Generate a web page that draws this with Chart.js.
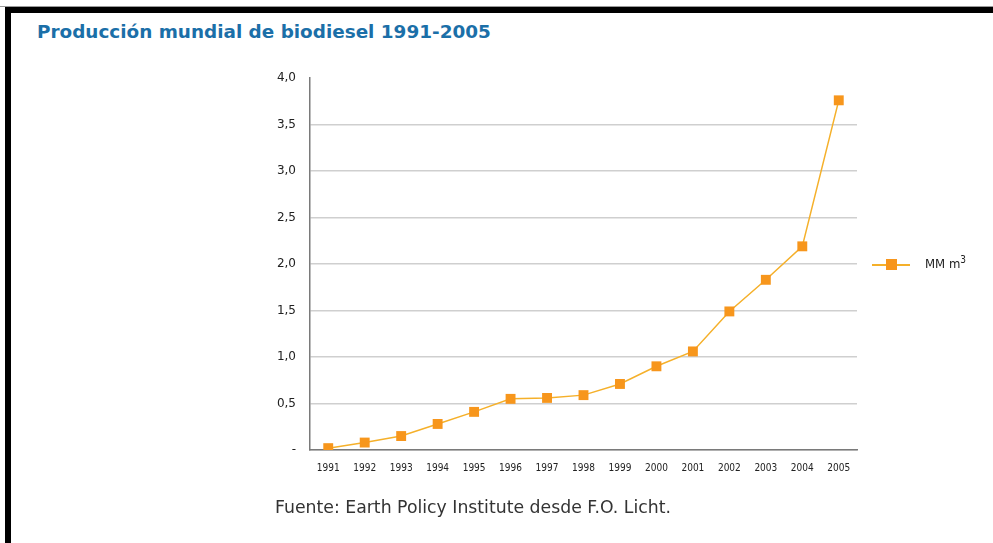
<!DOCTYPE html>
<html lang="es">
<head>
<meta charset="utf-8">
<title>Producción mundial de biodiesel 1991-2005</title>
<script src="https://cdn.jsdelivr.net/npm/chart.js@4/dist/chart.umd.min.js"></script>
<style>
  html, body { margin: 0; padding: 0; background: #fff; }
  #marco { position: relative; width: 993px; height: 543px; overflow: hidden; background: #fff; }
  #borde-sup { position: absolute; left: 0; top: 6px; width: 993px; height: 1px; background: #9a9a9a; }
  #borde-sup2 { position: absolute; left: 5px; top: 7px; width: 988px; height: 6px; background: #000; }
  #borde-izq { position: absolute; left: 5px; top: 7px; width: 6px; height: 536px; background: #000; }
  #titulo { position: absolute; left: 37px; top: 21px; font: bold 18.4px "DejaVu Sans", sans-serif; color: #1b6fa8; white-space: nowrap; }
  #fuente { position: absolute; left: 275px; top: 497px; font: 17.3px "DejaVu Sans", sans-serif; color: #333; white-space: nowrap; }
  #leyenda { position: absolute; left: 872px; top: 256px; height: 16px; font: 13px "DejaVu Sans Condensed", "DejaVu Sans", sans-serif; color: #222; white-space: nowrap; }
  #leyenda .linea { position: absolute; left: 0; top: 8px; width: 38px; height: 1.5px; }
  #leyenda .cuadro { position: absolute; left: 14px; top: 3px; width: 11px; height: 11px; }
  #leyenda .texto { position: absolute; left: 53px; top: 0px; }
  #leyenda sup { font-size: 10px; vertical-align: 5px; line-height: 0; }
  #grafico { position: absolute; left: 0; top: 0; }
</style>
</head>
<body>
<div id="marco">
  <div id="borde-sup"></div>
  <div id="borde-sup2"></div>
  <div id="borde-izq"></div>
  <div id="titulo">Producción mundial de biodiesel 1991-2005</div>
  <canvas id="grafico" width="993" height="543"></canvas>
  <div id="leyenda"><span class="linea"></span><span class="cuadro"></span><span class="texto">MM m<sup>3</sup></span></div>
  <div id="fuente">Fuente: Earth Policy Institute desde F.O. Licht.</div>
</div>
<script>
// años y producción (millones de m3)
const anios = ["1991", "1992", "1993", "1994", "1995", "1996", "1997", "1998",
               "1999", "2000", "2001", "2002", "2003", "2004", "2005"];
const produccion = [0.02, 0.08, 0.15, 0.28, 0.41, 0.55, 0.56, 0.59,
                    0.71, 0.90, 1.06, 1.49, 1.83, 2.19, 3.76];
const etiquetaSerie = "MM m3";

const colorLinea = "#f5b02a";
const colorMarcador = "#f7961c";

// leyenda con los mismos colores de la serie
document.querySelector("#leyenda .linea").style.background = colorLinea;
document.querySelector("#leyenda .cuadro").style.background = colorMarcador;

function formatoEje(valor) {
    if (valor === 0) return "-";
    return valor.toFixed(1).replace(".", ",");
}

const ctx = document.getElementById("grafico").getContext("2d");
new Chart(ctx, {
    type: 'line',
    data: {
        labels: anios,
        datasets: [{
            label: etiquetaSerie,
            data: produccion,
            borderColor: colorLinea,
            borderWidth: 1.5,
            pointStyle: 'rect',
            pointRadius: 7,
            pointBackgroundColor: colorMarcador,
            pointBorderColor: colorMarcador,
            pointBorderWidth: 0,
            tension: 0
        }]
    },
    options: {
        responsive: false,
        animation: false,
        layout: {
            padding: { left: 250, right: 136, top: 78, bottom: 68 }
        },
        plugins: {
            legend: { display: false },
            tooltip: { enabled: false }
        },
        scales: {
            x: {
                offset: true,
                grid: { display: false },
                border: { color: "#7a7a7a", width: 1.5 },
                ticks: {
                    color: "#222",
                    font: { family: "DejaVu Sans Condensed, DejaVu Sans", size: 10 },
                    padding: 4,
                    maxRotation: 0
                },
                afterFit(scale) { scale.height = 25; }
            },
            y: {
                min: 0,
                max: 4,
                ticks: {
                    stepSize: 0.5,
                    color: "#222",
                    font: { family: "DejaVu Sans", size: 12 },
                    padding: 14,
                    callback: (v) => formatoEje(v)
                },
                grid: {
                    drawTicks: false,
                    lineWidth: 1.5,
                    color: (c) => (c.tick && c.tick.value === 4) ? "rgba(0,0,0,0)" : "#cfcfcf"
                },
                border: { color: "#7a7a7a", width: 1.5 },
                afterFit(scale) { scale.width = 60; }
            }
        }
    }
});
</script>
</body>
</html>
